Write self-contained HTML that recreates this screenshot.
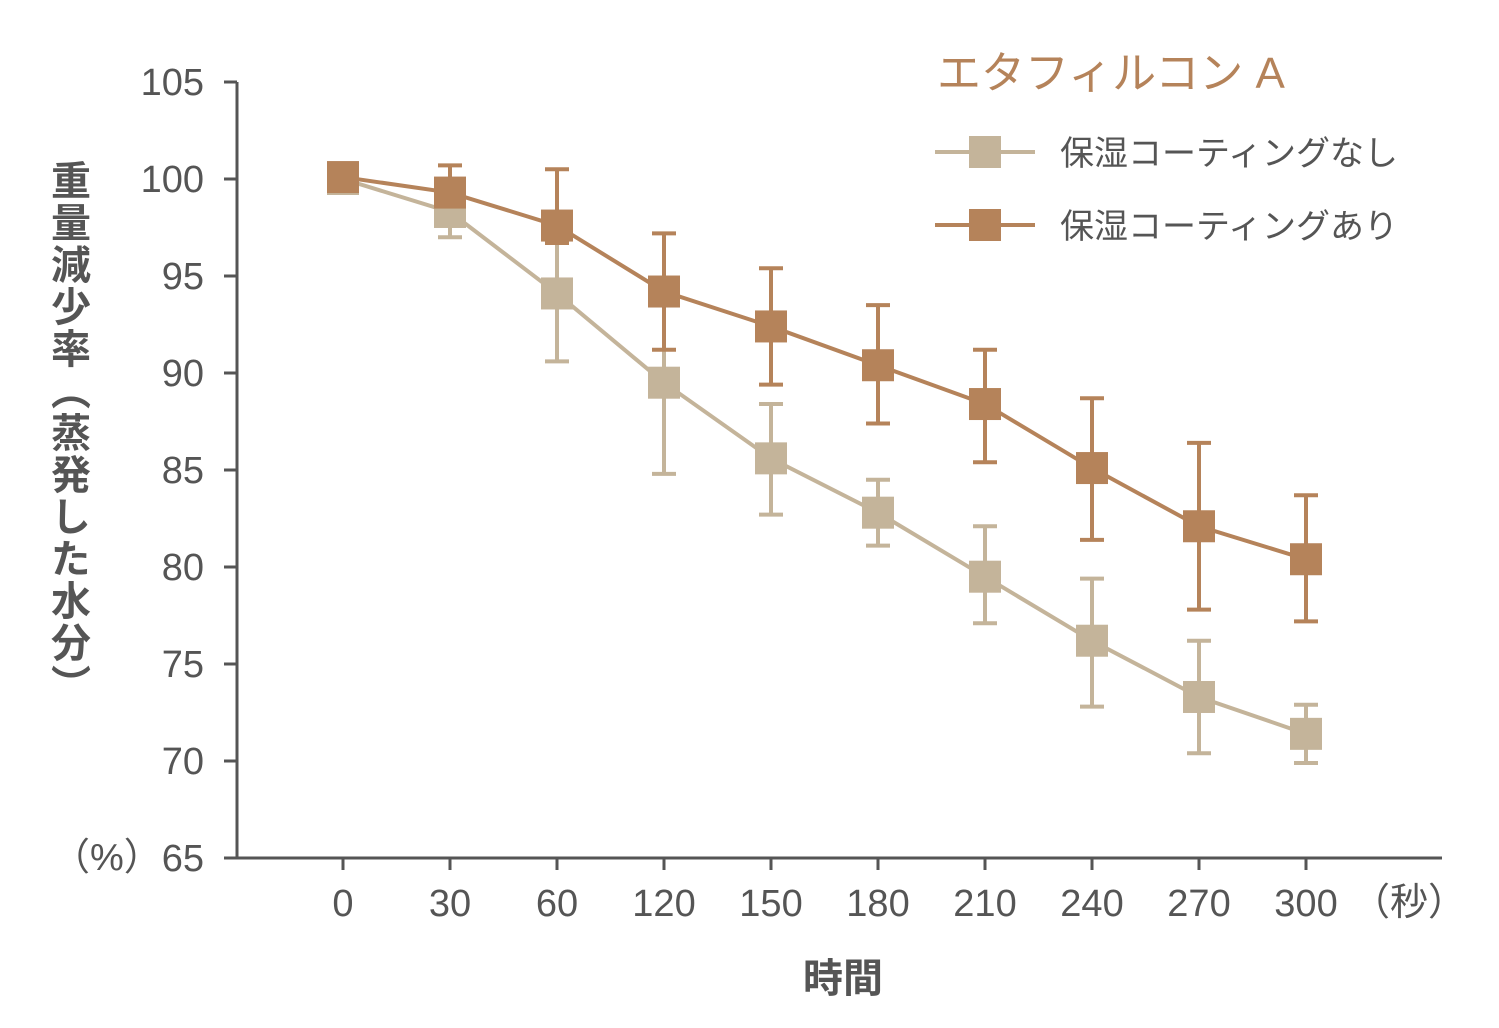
<!DOCTYPE html>
<html><head><meta charset="utf-8"><style>
html,body{margin:0;padding:0;background:#fff;}
svg{display:block;font-family:"Liberation Sans","Noto Sans CJK JP",sans-serif;}
</style></head><body>
<svg id="chart" width="1499" height="1028" viewBox="0 0 1499 1028">
<g id="axes"></g>
<g id="series"></g>
<text x="937" y="88" font-size="44" fill="#b5835a">エタフィルコン A</text>
<g>
<line x1="935" y1="152" x2="1035" y2="152" stroke="#c4b49a" stroke-width="4"/>
<rect x="969" y="136" width="32" height="32" fill="#c4b49a"/>
<text x="1060" y="165" font-size="34" fill="#555">保湿コーティングなし</text>
</g>
<g>
<line x1="935" y1="225" x2="1035" y2="225" stroke="#b5835a" stroke-width="4"/>
<rect x="969" y="209" width="32" height="32" fill="#b5835a"/>
<text x="1060" y="238" font-size="34" fill="#555">保湿コーティングあり</text>
</g>
<text transform="translate(67,160) rotate(0)" font-size="40" font-weight="bold" fill="#555" style="writing-mode:vertical-rl;letter-spacing:2px">重量減少率（蒸発した水分）</text>
<text x="52" y="870" font-size="38" fill="#555">（%）</text>
<text x="1352" y="915" font-size="38" fill="#555">（秒）</text>
<text x="843" y="992" font-size="40" font-weight="bold" fill="#555" text-anchor="middle">時間</text>
</svg>
<script>
const categories=["0","30","60","120","150","180","210","240","270","300"];
const yTicks=[65,70,75,80,85,90,95,100,105];
const nashiVals=[100,98.3,94.1,89.5,85.6,82.8,79.5,76.2,73.3,71.4];
const nashiLow=[100,97.0,90.6,84.8,82.7,81.1,77.1,72.8,70.4,69.9];
const nashiHigh=[100,99.4,97.0,93.6,88.4,84.5,82.1,79.4,76.2,72.9];
const ariVals=[100.1,99.3,97.6,94.2,92.4,90.4,88.4,85.1,82.1,80.4];
const ariLow=[100.1,98.6,96.7,91.2,89.4,87.4,85.4,81.4,77.8,77.2];
const ariHigh=[100.1,100.7,100.5,97.2,95.4,93.5,91.2,88.7,86.4,83.7];
const NS="http://www.w3.org/2000/svg";
const X=i=>343+i*107;
const Y=v=>858-(v-65)*19.4;
function mk(tag,attrs,parent){const e=document.createElementNS(NS,tag);for(const k in attrs)e.setAttribute(k,attrs[k]);parent.appendChild(e);return e;}
const ax=document.getElementById('axes');
let l=mk('line',{x1:237,y1:82,x2:237,y2:858,stroke:'#555','stroke-width':3},ax);


l=mk('line',{x1:237,y1:858,x2:1442,y2:858,stroke:'#555','stroke-width':3},ax);


yTicks.forEach(v=>{
 const t=mk('line',{x1:224,y1:Y(v),x2:237,y2:Y(v),stroke:'#555','stroke-width':3},ax);
 
 
 const tx=mk('text',{x:204,y:Y(v)+13,'font-size':38,fill:'#555','text-anchor':'end'},ax);
 tx.textContent=v;
 
 
});
categories.forEach((c,i)=>{
 const t=mk('line',{x1:X(i),y1:858,x2:X(i),y2:870,stroke:'#555','stroke-width':3},ax);
 
 
 const tx=mk('text',{x:X(i),y:916,'font-size':38,fill:'#555','text-anchor':'middle'},ax);
 tx.textContent=c;
 
 
});
const sg=document.getElementById('series');
function drawSeries(vals,lo,hi,color,name){
 const g=mk('g',{},sg);
 
 
 const p=mk('polyline',{points:vals.map((v,i)=>X(i)+','+Y(v)).join(' '),fill:'none',stroke:color,'stroke-width':4},g);
 
 
 vals.forEach((v,i)=>{
  const e=mk('path',{d:`M${X(i)},${Y(lo[i])}V${Y(hi[i])}M${X(i)-12},${Y(lo[i])}h24M${X(i)-12},${Y(hi[i])}h24`,stroke:color,'stroke-width':4,fill:'none'},g);
  
  
 });
 vals.forEach((v,i)=>{
  const r=mk('rect',{x:X(i)-16,y:Y(v)-16,width:32,height:32,fill:color},g);
  
  
 });
}
drawSeries(nashiVals,nashiLow,nashiHigh,'#c4b49a','series-nashi');
drawSeries(ariVals,ariLow,ariHigh,'#b5835a','series-ari');
</script>
</body></html>
